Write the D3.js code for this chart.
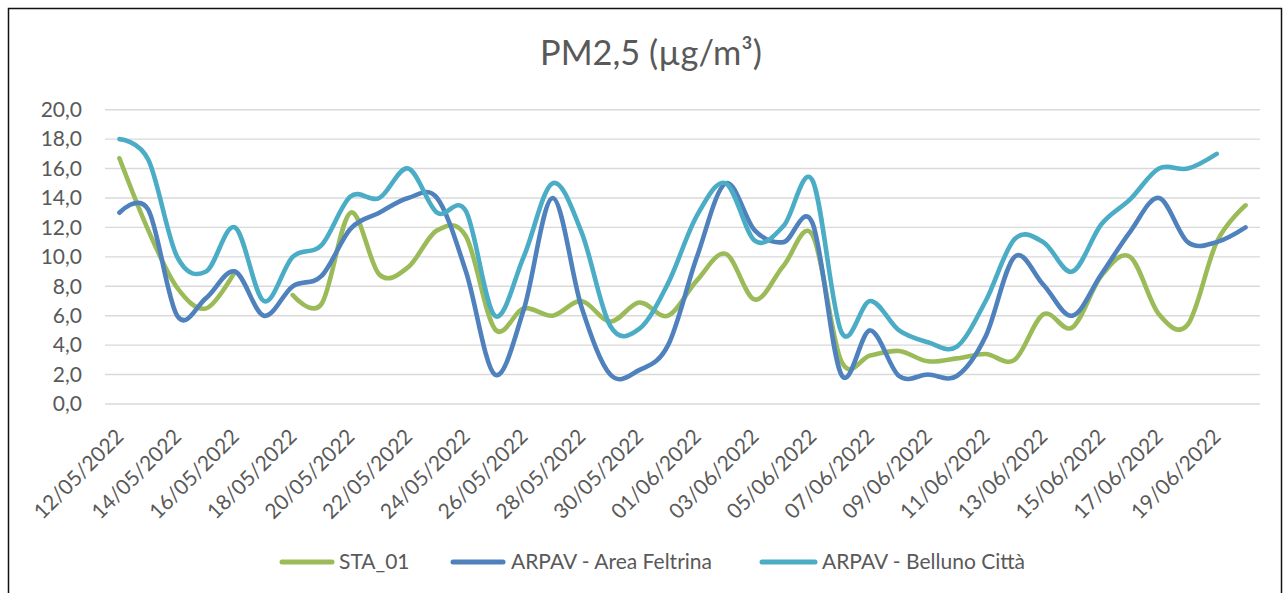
<!DOCTYPE html>
<html><head><meta charset="utf-8">
<script src="https://cdn.jsdelivr.net/npm/d3@7"></script>
<style>
html,body{margin:0;padding:0;background:#fff;}
svg{display:block;}
text{font-family:Lato,'Open Sans',sans-serif;fill:#595959;}
</style>
</head><body>
<svg id="chart" width="1284" height="593"></svg>
<script>
const dates = ["12/05/2022","13/05/2022","14/05/2022","15/05/2022","16/05/2022","17/05/2022","18/05/2022","19/05/2022","20/05/2022","21/05/2022",
"22/05/2022","23/05/2022","24/05/2022","25/05/2022","26/05/2022","27/05/2022","28/05/2022","29/05/2022","30/05/2022","31/05/2022",
"01/06/2022","02/06/2022","03/06/2022","04/06/2022","05/06/2022","06/06/2022","07/06/2022","08/06/2022","09/06/2022","10/06/2022",
"11/06/2022","12/06/2022","13/06/2022","14/06/2022","15/06/2022","16/06/2022","17/06/2022","18/06/2022","19/06/2022","20/06/2022"];
const sta01 = [16.7,11.8,7.9,6.5,9.0,null,7.4,6.8,13.0,8.8,
9.3,11.8,11.4,5.1,6.5,6.0,7.0,5.6,6.9,6.0,
8.4,10.2,7.1,9.4,11.5,2.9,3.3,3.6,2.9,3.1,
3.4,3.0,6.1,5.2,8.7,10.0,6.1,5.4,11.0,13.5];
const feltrina = [13.0,13.2,6.0,7.2,9.0,6.0,8.0,8.7,11.9,13.0,
14.0,14.0,9.0,2.0,6.4,14.0,6.6,2.0,2.3,4.0,
10.0,15.0,11.8,11.0,12.3,2.0,5.0,1.9,2.0,1.9,
4.6,10.0,8.1,6.0,8.8,11.7,14.0,11.0,11.0,12.0];
const belluno = [18.0,16.6,10.0,9.0,12.0,7.0,10.0,10.8,14.1,14.0,
16.0,13.0,13.1,6.0,10.0,15.0,11.7,5.3,5.1,8.2,
12.8,15.0,11.1,12.1,15.2,4.9,7.0,5.0,4.2,3.9,
7.0,11.2,11.0,9.0,12.2,13.9,16.0,16.0,17.0,null];
const yTicks = [0,2,4,6,8,10,12,14,16,18,20];
const seriesNames = ["STA_01","ARPAV - Area Feltrina","ARPAV - Belluno Città"];
const seriesColors = ["#9BBB59","#4F81BD","#4BACC6"];
const seriesValues = [sta01, feltrina, belluno];
const titleText = "PM2,5 (µg/m³)";

const svg = d3.select("#chart");
svg.append("rect").attr("x",8.5).attr("y",8.5).attr("width",1273).attr("height",620)
  .attr("fill","none").attr("stroke","#111").attr("stroke-width",1.5);

const plot = {left:105, right:1260, top:109.7, bottom:404};
const x = d3.scalePoint().domain(dates).range([plot.left, plot.right]).padding(0.5);
const y = d3.scaleLinear().domain([0,20]).range([plot.bottom, plot.top]);

svg.append("g").selectAll("line").data(yTicks).join("line")
  .attr("x1",plot.left).attr("x2",plot.right)
  .attr("y1",d=>y(d)).attr("y2",d=>y(d))
  .attr("stroke","#d9d9d9").attr("stroke-width",1.4);

const fmt = d => d3.format(".1f")(d).replace(".",",");
const yAxis = svg.append("g").attr("transform",`translate(${plot.left},0)`)
  .call(d3.axisLeft(y).tickValues(yTicks).tickFormat(fmt).tickSize(0).tickPadding(23));
yAxis.select(".domain").remove();
yAxis.selectAll("text").style("font-size","21px").style("fill","#595959").style("font-family","Lato,'Open Sans',sans-serif");

const xAxis = svg.append("g").attr("transform",`translate(0,${plot.bottom})`)
  .call(d3.axisBottom(x).tickValues(dates.filter((d,i)=>i%2===0)).tickSize(0));
xAxis.select(".domain").remove();
xAxis.selectAll("text")
  .attr("x",0).attr("y",0).attr("dy",null)
  .style("text-anchor","end").style("font-size","21px").style("fill","#595959")
  .style("font-family","Lato,'Open Sans',sans-serif")
  .attr("transform","translate(5,34) rotate(-45)");

const line = d3.line()
  .defined(d=>d.v!==null)
  .x(d=>x(d.date)).y(d=>y(d.v))
  .curve(d3.curveCatmullRom.alpha(0));
seriesValues.forEach((vals,k)=>{
  const data = dates.map((dt,i)=>({date:dt, v:vals[i]}));
  svg.append("path").datum(data).attr("d",line)
    .attr("fill","none").attr("stroke",seriesColors[k]).attr("stroke-width",4.6)
    .attr("stroke-linecap","round").attr("stroke-linejoin","round");
});

const title = svg.append("text").attr("x",651).attr("y",65).attr("text-anchor","middle")
  .style("font-size","28px").text(titleText);
const tw = title.node().getComputedTextLength();
title.style("font-size",(28*222/tw).toFixed(2)+"px");

const legendPos = [[282,332,339],[453,503,511],[762,815,822]];
const lg = svg.append("g");
seriesNames.forEach((n,k)=>{
  lg.append("line").attr("x1",legendPos[k][0]).attr("x2",legendPos[k][1])
    .attr("y1",562).attr("y2",562).attr("stroke",seriesColors[k]).attr("stroke-width",5)
    .attr("stroke-linecap","round");
  lg.append("text").attr("x",legendPos[k][2]).attr("y",562).attr("dy","0.35em")
    .style("font-size","21px").text(n);
});
</script>
</body></html>
